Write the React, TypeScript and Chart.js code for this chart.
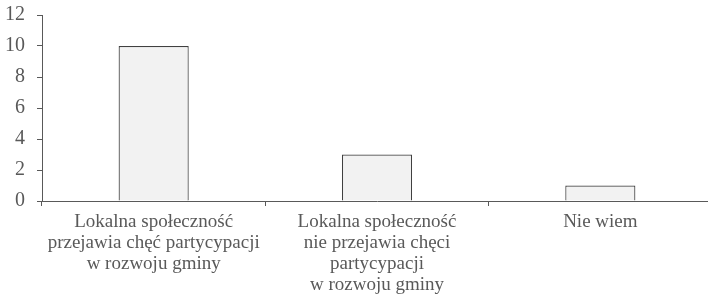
import React, { useEffect, useRef } from "react";
import { Chart, registerables } from "chart.js";

Chart.register(...registerables);

const categories: string[][] = [
  ["Lokalna społeczność", "przejawia chęć partycypacji", "w rozwoju gminy"],
  ["Lokalna społeczność", "nie przejawia chęci", "partycypacji", "w rozwoju gminy"],
  ["Nie wiem"],
];
const values: number[] = [10, 3, 1];
const yTicks = { min: 0, max: 12, step: 2 };

const FAMILY = "'Times New Roman', 'Liberation Serif', serif";

export default function App() {
  const ref = useRef<HTMLCanvasElement | null>(null);
  useEffect(() => {
    if (!ref.current) return;
    const axisColor = "#595959";
    const textColor = "#595959";
    const chart = new Chart(ref.current, {
      type: "bar",
      data: {
        labels: categories,
        datasets: [
          {
            data: values,
            backgroundColor: "#f2f2f2",
            borderColor: "#404040",
            borderWidth: 1.2,
            categoryPercentage: 1,
            barPercentage: 0.314,
          },
        ],
      },
      options: {
        animation: false,
        responsive: false,
        maintainAspectRatio: false,
        layout: { padding: { top: 15, left: 0, right: 0, bottom: 0 } },
        plugins: { legend: { display: false }, tooltip: { enabled: false } },
        scales: {
          x: {
            grid: {
              display: true,
              drawOnChartArea: false,
              drawTicks: true,
              tickLength: 5,
              color: axisColor,
              offset: true,
            },
            border: { display: true, color: axisColor, width: 1 },
            ticks: {
              color: textColor,
              font: { family: FAMILY, size: 19, lineHeight: 1.1 },
              padding: 6,
              maxRotation: 0,
              autoSkip: false,
            },
            afterFit: (s: any) => {
              s.height = 101;
              s.paddingLeft = 0;
              s.paddingRight = 0;
            },
          },
          y: {
            min: yTicks.min,
            max: yTicks.max,
            grid: {
              display: true,
              drawOnChartArea: false,
              drawTicks: true,
              tickLength: 5,
              color: axisColor,
            },
            border: { display: true, color: axisColor, width: 1 },
            ticks: {
              stepSize: yTicks.step,
              color: textColor,
              font: { family: FAMILY, size: 20 },
              padding: 12,
            },
            afterFit: (s: any) => {
              s.width = 42;
              s.paddingTop = 0;
              s.paddingBottom = 0;
            },
          },
        },
      },
    });
    return () => chart.destroy();
  }, []);
  return (
    <div style={{ width: 708, height: 302, overflow: "hidden", position: "absolute", left: 0, top: 0 }}>
      <canvas ref={ref} width={712} height={302} style={{ display: "block" }} />
    </div>
  );
}
